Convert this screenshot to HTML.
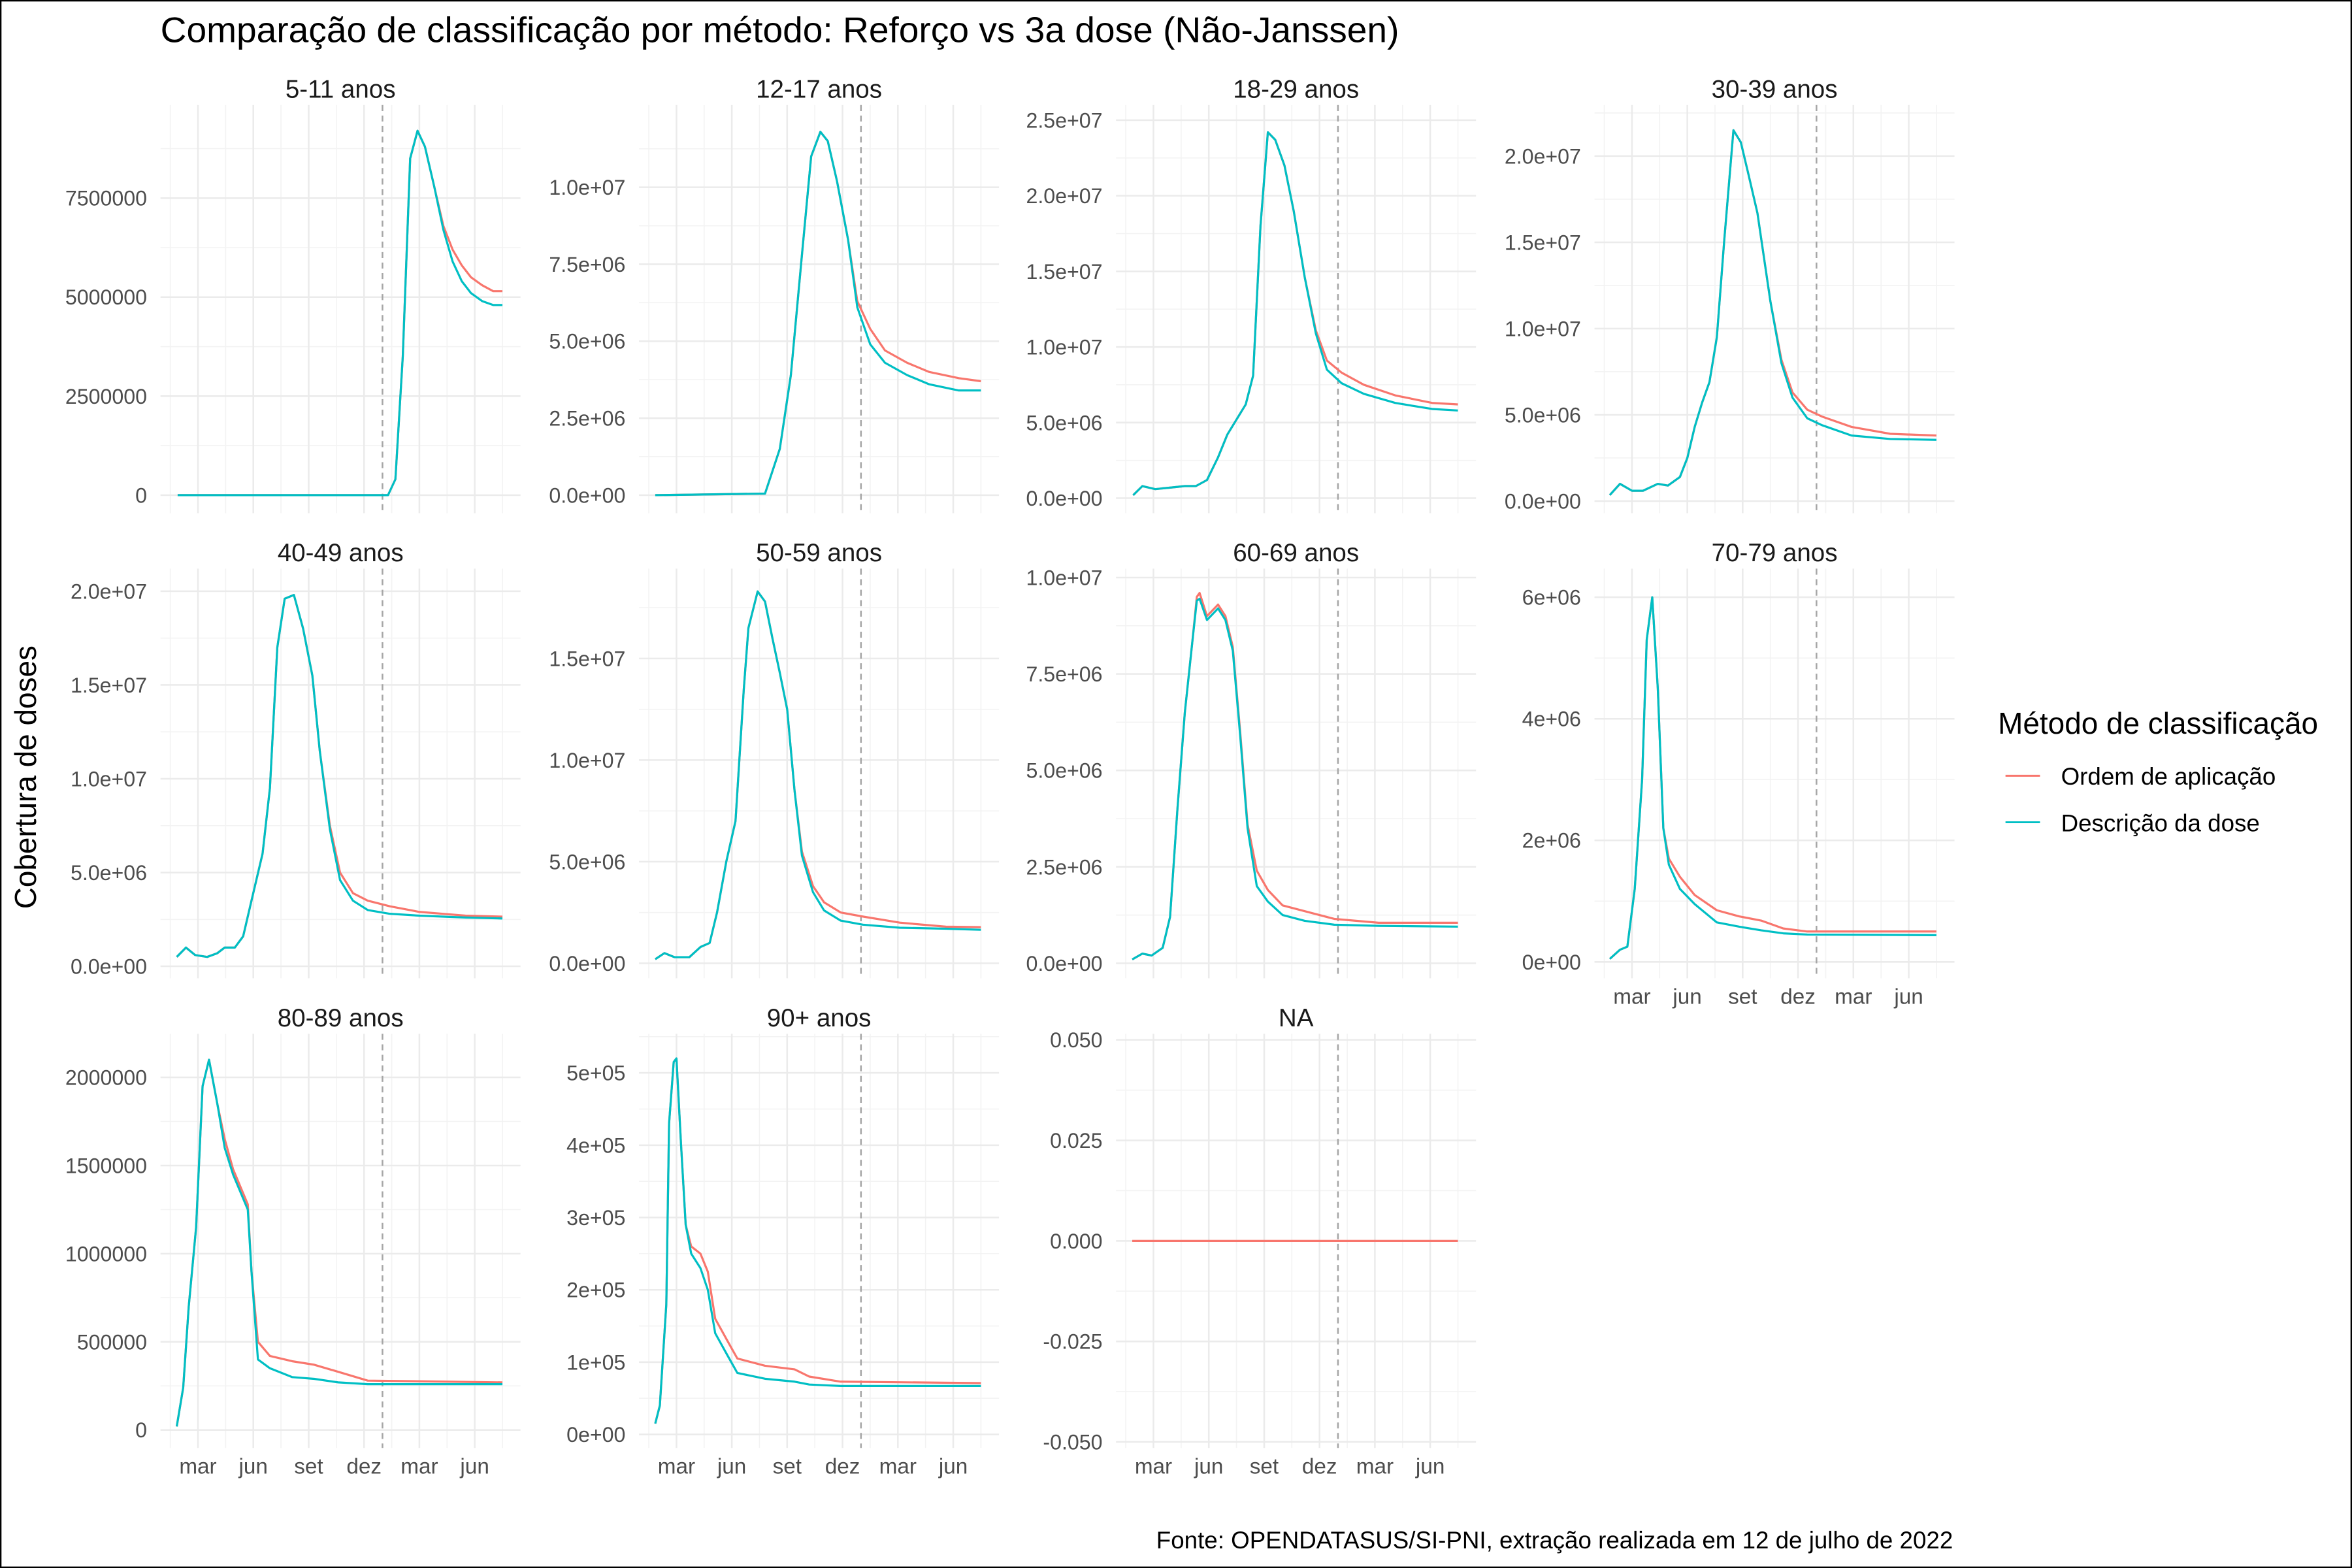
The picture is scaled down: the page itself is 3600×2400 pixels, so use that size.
<!DOCTYPE html>
<html><head><meta charset="utf-8"><style>
html,body{margin:0;padding:0;background:#fff;}
svg{display:block;font-family:"Liberation Sans",Arial,sans-serif;}
</style></head><body>
<svg id="chart" xmlns="http://www.w3.org/2000/svg" width="3600" height="2400" viewBox="0 0 1568 1045" preserveAspectRatio="none">
<rect x="0.5" y="0.5" width="1567" height="1044" fill="#fff" stroke="#000" stroke-width="1"/>
<text x="107" y="28" font-size="24" fill="#000">Comparação de classificação por método: Reforço vs 3a dose (Não-Janssen)</text>
<text transform="translate(24,518) rotate(-90)" text-anchor="middle" font-size="20" fill="#000">Cobertura de doses</text>
<text x="1332" y="489" font-size="20" fill="#000">Método de classificação</text>
<line x1="1337" y1="517" x2="1360" y2="517" stroke="#F8766D" stroke-width="1.3"/>
<text x="1374" y="523" font-size="16" fill="#000">Ordem de aplicação</text>
<line x1="1337" y1="548" x2="1360" y2="548" stroke="#00BFC4" stroke-width="1.3"/>
<text x="1374" y="554" font-size="16" fill="#000">Descrição da dose</text>
<text x="1302" y="1032" text-anchor="end" font-size="16" fill="#000">Fonte: OPENDATASUS/SI-PNI, extração realizada em 12 de julho de 2022</text>
<g id="panels"></g>
</svg>
<script>
// x data: months since Jan 1 2021
const xTickMonths=[2,5,8,11,14,17];
const xTickLabels=["mar","jun","set","dez","mar","jun"];
const boosterStart=12;
const panelNames=["5-11 anos","12-17 anos","18-29 anos","30-39 anos","40-49 anos","50-59 anos","60-69 anos","70-79 anos","80-89 anos","90+ anos","NA"];

const t_5_11=[0.9,12.3,12.7,13.1,13.5,13.9,14.3,14.8,15.3,15.8,16.3,16.8,17.4,18.0,18.5];
const red_5_11=[0,0,0.4e6,3.5e6,8.5e6,9.2e6,8.8e6,7.8e6,6.8e6,6.2e6,5.8e6,5.5e6,5.3e6,5.15e6,5.15e6];
const blue_5_11=[0,0,0.4e6,3.5e6,8.5e6,9.2e6,8.8e6,7.8e6,6.7e6,5.9e6,5.4e6,5.1e6,4.9e6,4.8e6,4.8e6];

const t_12_17=[0.85,6.8,7.6,8.2,8.8,9.3,9.8,10.2,10.7,11.3,11.8,12.5,13.3,14.5,15.7,17.3,18.5];
const red_12_17=[0,0.05e6,1.5e6,3.9e6,7.8e6,11e6,11.8e6,11.5e6,10.2e6,8.3e6,6.3e6,5.4e6,4.7e6,4.3e6,4.0e6,3.8e6,3.7e6];
const blue_12_17=[0,0.05e6,1.5e6,3.9e6,7.8e6,11e6,11.8e6,11.5e6,10.2e6,8.3e6,6.1e6,4.9e6,4.3e6,3.9e6,3.6e6,3.4e6,3.4e6];

const t_18_29=[0.9,1.4,2.1,2.9,3.7,4.3,4.9,5.5,6.0,6.5,7.0,7.4,7.8,8.2,8.6,9.1,9.6,10.2,10.8,11.4,12.2,13.4,15.1,17.1,18.5];
const red_18_29=[0.2e6,0.8e6,0.6e6,0.7e6,0.8e6,0.8e6,1.2e6,2.7e6,4.2e6,5.2e6,6.2e6,8.1e6,18e6,24.2e6,23.7e6,22e6,19e6,14.6e6,11.1e6,9.1e6,8.3e6,7.5e6,6.8e6,6.3e6,6.2e6];
const blue_18_29=[0.2e6,0.8e6,0.6e6,0.7e6,0.8e6,0.8e6,1.2e6,2.7e6,4.2e6,5.2e6,6.2e6,8.1e6,18e6,24.2e6,23.7e6,22e6,19e6,14.6e6,10.9e6,8.5e6,7.6e6,6.9e6,6.3e6,5.9e6,5.8e6];

const t_30_39=[0.8,1.35,2.0,2.6,3.4,3.95,4.6,5.0,5.4,5.8,6.2,6.6,7.0,7.5,7.9,8.3,8.8,9.5,10.1,10.7,11.5,12.3,13.9,16.0,18.5];
const red_30_39=[0.35e6,1.0e6,0.6e6,0.6e6,1.0e6,0.9e6,1.4e6,2.5e6,4.3e6,5.7e6,6.9e6,9.5e6,15.1e6,21.5e6,20.8e6,19e6,16.7e6,11.6e6,8.2e6,6.3e6,5.3e6,4.9e6,4.3e6,3.9e6,3.8e6];
const blue_30_39=[0.35e6,1.0e6,0.6e6,0.6e6,1.0e6,0.9e6,1.4e6,2.5e6,4.3e6,5.7e6,6.9e6,9.5e6,15.1e6,21.5e6,20.8e6,19e6,16.7e6,11.6e6,8.0e6,6.0e6,4.8e6,4.4e6,3.8e6,3.6e6,3.55e6];

const t_40_49=[0.85,1.35,1.85,2.5,3.05,3.45,4.0,4.45,4.9,5.5,5.9,6.3,6.7,7.2,7.7,8.2,8.6,9.15,9.7,10.4,11.2,12.4,14.0,16.5,18.5];
const red_40_49=[0.5e6,1.0e6,0.6e6,0.5e6,0.7e6,1.0e6,1.0e6,1.6e6,3.5e6,6.0e6,9.5e6,17e6,19.6e6,19.8e6,18e6,15.5e6,11.5e6,7.5e6,5.0e6,3.9e6,3.5e6,3.2e6,2.9e6,2.7e6,2.65e6];
const blue_40_49=[0.5e6,1.0e6,0.6e6,0.5e6,0.7e6,1.0e6,1.0e6,1.6e6,3.5e6,6.0e6,9.5e6,17e6,19.6e6,19.8e6,18e6,15.5e6,11.5e6,7.3e6,4.6e6,3.5e6,3.0e6,2.8e6,2.7e6,2.6e6,2.55e6];

const t_50_59=[0.85,1.35,1.9,2.7,3.3,3.8,4.2,4.7,5.2,5.65,5.9,6.4,6.8,7.2,7.6,8.0,8.4,8.8,9.4,10.0,10.9,12.1,14.1,16.6,18.5];
const red_50_59=[0.2e6,0.5e6,0.3e6,0.3e6,0.8e6,1.0e6,2.5e6,5.0e6,7.0e6,13.5e6,16.5e6,18.3e6,17.8e6,16e6,14.3e6,12.5e6,8.5e6,5.5e6,3.8e6,3.0e6,2.5e6,2.3e6,2.0e6,1.8e6,1.78e6];
const blue_50_59=[0.2e6,0.5e6,0.3e6,0.3e6,0.8e6,1.0e6,2.5e6,5.0e6,7.0e6,13.5e6,16.5e6,18.3e6,17.8e6,16e6,14.3e6,12.5e6,8.5e6,5.3e6,3.5e6,2.6e6,2.1e6,1.9e6,1.75e6,1.7e6,1.65e6];

const t_60_69=[0.85,1.4,1.9,2.5,2.9,3.3,3.7,4.1,4.35,4.5,4.9,5.5,5.9,6.3,6.7,7.1,7.6,8.2,9.0,10.2,11.8,14.2,18.5];
const red_60_69=[0.1e6,0.25e6,0.2e6,0.4e6,1.2e6,4.0e6,6.5e6,8.3e6,9.5e6,9.6e6,9.0e6,9.3e6,9.0e6,8.2e6,6.0e6,3.6e6,2.4e6,1.9e6,1.5e6,1.35e6,1.15e6,1.05e6,1.05e6];
const blue_60_69=[0.1e6,0.25e6,0.2e6,0.4e6,1.2e6,4.0e6,6.5e6,8.3e6,9.4e6,9.45e6,8.9e6,9.2e6,8.9e6,8.1e6,5.9e6,3.5e6,2.0e6,1.6e6,1.25e6,1.1e6,1.0e6,0.97e6,0.95e6];

const t_70_79=[0.8,1.35,1.75,2.15,2.55,2.8,3.1,3.4,3.7,4.0,4.6,5.4,6.6,7.8,9.0,10.2,11.5,18.5];
const red_70_79=[0.05e6,0.2e6,0.25e6,1.2e6,3.0e6,5.3e6,6.0e6,4.5e6,2.2e6,1.7e6,1.4e6,1.1e6,0.85e6,0.75e6,0.68e6,0.55e6,0.5e6,0.5e6];
const blue_70_79=[0.05e6,0.2e6,0.25e6,1.2e6,3.0e6,5.3e6,6.0e6,4.5e6,2.2e6,1.6e6,1.2e6,0.95e6,0.65e6,0.58e6,0.52e6,0.47e6,0.45e6,0.44e6];

const t_80_89=[0.85,1.2,1.5,1.9,2.25,2.6,3.05,3.45,3.9,4.3,4.7,4.9,5.25,5.9,7.1,8.3,9.6,11.2,18.5];
const red_80_89=[0.02e6,0.24e6,0.7e6,1.15e6,1.95e6,2.1e6,1.85e6,1.65e6,1.48e6,1.38e6,1.28e6,0.9e6,0.5e6,0.42e6,0.39e6,0.37e6,0.33e6,0.28e6,0.27e6];
const blue_80_89=[0.02e6,0.24e6,0.7e6,1.15e6,1.95e6,2.1e6,1.85e6,1.6e6,1.45e6,1.35e6,1.25e6,0.9e6,0.4e6,0.35e6,0.3e6,0.29e6,0.27e6,0.26e6,0.26e6];

const t_90=[0.85,1.1,1.45,1.6,1.85,2.0,2.25,2.5,2.8,3.3,3.7,4.1,4.75,5.3,6.8,8.4,9.2,10.9,18.5];
const red_90=[15e3,40e3,180e3,430e3,515e3,520e3,400e3,290e3,260e3,250e3,225e3,160e3,130e3,105e3,95e3,90e3,80e3,73e3,71e3];
const blue_90=[15e3,40e3,180e3,430e3,515e3,520e3,400e3,290e3,250e3,230e3,200e3,140e3,110e3,85e3,77e3,73e3,69e3,67e3,67e3];

const t_na=[0.85,18.5];
const red_na=[0,0];
const blue_na=[];

const ticks_5_11=[0,2500000,5000000,7500000];
const labels_5_11=["0","2500000","5000000","7500000"];
const ticks_12_17=[0,2.5e6,5e6,7.5e6,1e7];
const labels_12_17=["0.0e+00","2.5e+06","5.0e+06","7.5e+06","1.0e+07"];
const ticks_18_29=[0,5e6,1e7,1.5e7,2e7,2.5e7];
const labels_18_29=["0.0e+00","5.0e+06","1.0e+07","1.5e+07","2.0e+07","2.5e+07"];
const ticks_30_39=[0,5e6,1e7,1.5e7,2e7];
const labels_30_39=["0.0e+00","5.0e+06","1.0e+07","1.5e+07","2.0e+07"];
const ticks_40_49=[0,5e6,1e7,1.5e7,2e7];
const labels_40_49=["0.0e+00","5.0e+06","1.0e+07","1.5e+07","2.0e+07"];
const ticks_50_59=[0,5e6,1e7,1.5e7];
const labels_50_59=["0.0e+00","5.0e+06","1.0e+07","1.5e+07"];
const ticks_60_69=[0,2.5e6,5e6,7.5e6,1e7];
const labels_60_69=["0.0e+00","2.5e+06","5.0e+06","7.5e+06","1.0e+07"];
const ticks_70_79=[0,2e6,4e6,6e6];
const labels_70_79=["0e+00","2e+06","4e+06","6e+06"];
const ticks_80_89=[0,5e5,1e6,1.5e6,2e6];
const labels_80_89=["0","500000","1000000","1500000","2000000"];
const ticks_90=[0,1e5,2e5,3e5,4e5,5e5];
const labels_90=["0e+00","1e+05","2e+05","3e+05","4e+05","5e+05"];
const ticks_na=[-0.05,-0.025,0,0.025,0.05];
const labels_na=["-0.050","-0.025","0.000","0.025","0.050"];

const domain_5_11=[-0.455e6,9.85e6];
const domain_12_17=[-0.585e6,12.67e6];
const domain_18_29=[-0.99e6,26.0e6];
const domain_30_39=[-0.70e6,22.96e6];
const domain_40_49=[-0.64e6,21.2e6];
const domain_50_59=[-0.74e6,19.42e6];
const domain_60_69=[-0.39e6,10.23e6];
const domain_70_79=[-0.27e6,6.47e6];
const domain_80_89=[-0.102e6,2.247e6];
const domain_90=[-0.0187e6,0.554e6];
const domain_na=[-0.0515,0.0515];
const xDomain=[-0.03,19.48];

const panelData=[
 [t_5_11,red_5_11,blue_5_11,ticks_5_11,labels_5_11,domain_5_11],
 [t_12_17,red_12_17,blue_12_17,ticks_12_17,labels_12_17,domain_12_17],
 [t_18_29,red_18_29,blue_18_29,ticks_18_29,labels_18_29,domain_18_29],
 [t_30_39,red_30_39,blue_30_39,ticks_30_39,labels_30_39,domain_30_39],
 [t_40_49,red_40_49,blue_40_49,ticks_40_49,labels_40_49,domain_40_49],
 [t_50_59,red_50_59,blue_50_59,ticks_50_59,labels_50_59,domain_50_59],
 [t_60_69,red_60_69,blue_60_69,ticks_60_69,labels_60_69,domain_60_69],
 [t_70_79,red_70_79,blue_70_79,ticks_70_79,labels_70_79,domain_70_79],
 [t_80_89,red_80_89,blue_80_89,ticks_80_89,labels_80_89,domain_80_89],
 [t_90,red_90,blue_90,ticks_90,labels_90,domain_90],
 [t_na,red_na,blue_na,ticks_na,labels_na,domain_na]
];

const NS="http://www.w3.org/2000/svg";
const root=document.getElementById("panels");
const colLeft=[107,426,744,1063], panelW=240;
const rowTop=[70,379,689], rowBot=[342,652,965];
function el(tag,parent,attrs){const e=document.createElementNS(NS,tag);for(const k in attrs)e.setAttribute(k,attrs[k]);parent.appendChild(e);return e;}

panelData.forEach((pd,i)=>{
  const [ts,reds,blues,ticks,labels,dom]=pd;
  const col=i%4,row=Math.floor(i/4);
  const L=colLeft[col],R=L+panelW,T=rowTop[row],B=rowBot[row];
  const sx=m=>L+(m-xDomain[0])/(xDomain[1]-xDomain[0])*(R-L);
  const sy=v=>B-(v-dom[0])/(dom[1]-dom[0])*(B-T);
  const g=el("g",root,{});
  
  
  const step=ticks[1]-ticks[0];
  for(let v=ticks[0]-step/2;v<=dom[1];v+=step){ if(v<dom[0])continue;
    const y=sy(v); const ln=el("line",g,{x1:L,x2:R,y1:y,y2:y,stroke:"#F3F3F3","stroke-width":0.7});
    
    
  }
  for(let m=0.5;m<=xDomain[1];m+=3){
    const x=sx(m); const ln=el("line",g,{x1:x,x2:x,y1:T,y2:B,stroke:"#F3F3F3","stroke-width":0.7});
    
    
  }
  ticks.forEach((v,j)=>{
    const y=sy(v); const ln=el("line",g,{x1:L,x2:R,y1:y,y2:y,stroke:"#EBEBEB","stroke-width":1.1});
    
    
    const tx=el("text",g,{x:L-9,y:y+5,"text-anchor":"end","font-size":14,fill:"#4D4D4D"});
    tx.textContent=labels[j];
    
    
  });
  const showX = (row===2) || (row===1 && col===3);
  xTickMonths.forEach((m,j)=>{
    const x=sx(m); const ln=el("line",g,{x1:x,x2:x,y1:T,y2:B,stroke:"#EBEBEB","stroke-width":1.1});
    
    
    if(showX){
      const tx=el("text",g,{x:x,y:B+17,"text-anchor":"middle","font-size":14.5,fill:"#4D4D4D"});
      tx.textContent=xTickLabels[j];
      
      
    }
  });
  const st=el("text",g,{x:(L+R)/2,y:T-5,"text-anchor":"middle","font-size":16.8,fill:"#1A1A1A"});
  st.textContent=panelNames[i];
  
  
  const bx=sx(boosterStart);
  const dl=el("line",g,{x1:bx,x2:bx,y1:T,y2:B,stroke:"#A6A6A6","stroke-width":1.1,"stroke-dasharray":"4,3"});
  
  
  const pts=(vals)=>vals.map((v,k)=>sx(ts[k]).toFixed(2)+","+sy(v).toFixed(2)).join(" ");
  if(reds.length){
    const p=el("polyline",g,{points:pts(reds),fill:"none",stroke:"#F8766D","stroke-width":1.4,"stroke-linejoin":"round"});
    
    
  }
  if(blues.length){
    const p=el("polyline",g,{points:pts(blues),fill:"none",stroke:"#00BFC4","stroke-width":1.4,"stroke-linejoin":"round"});
    
    
  }
});
</script>
</body></html>
